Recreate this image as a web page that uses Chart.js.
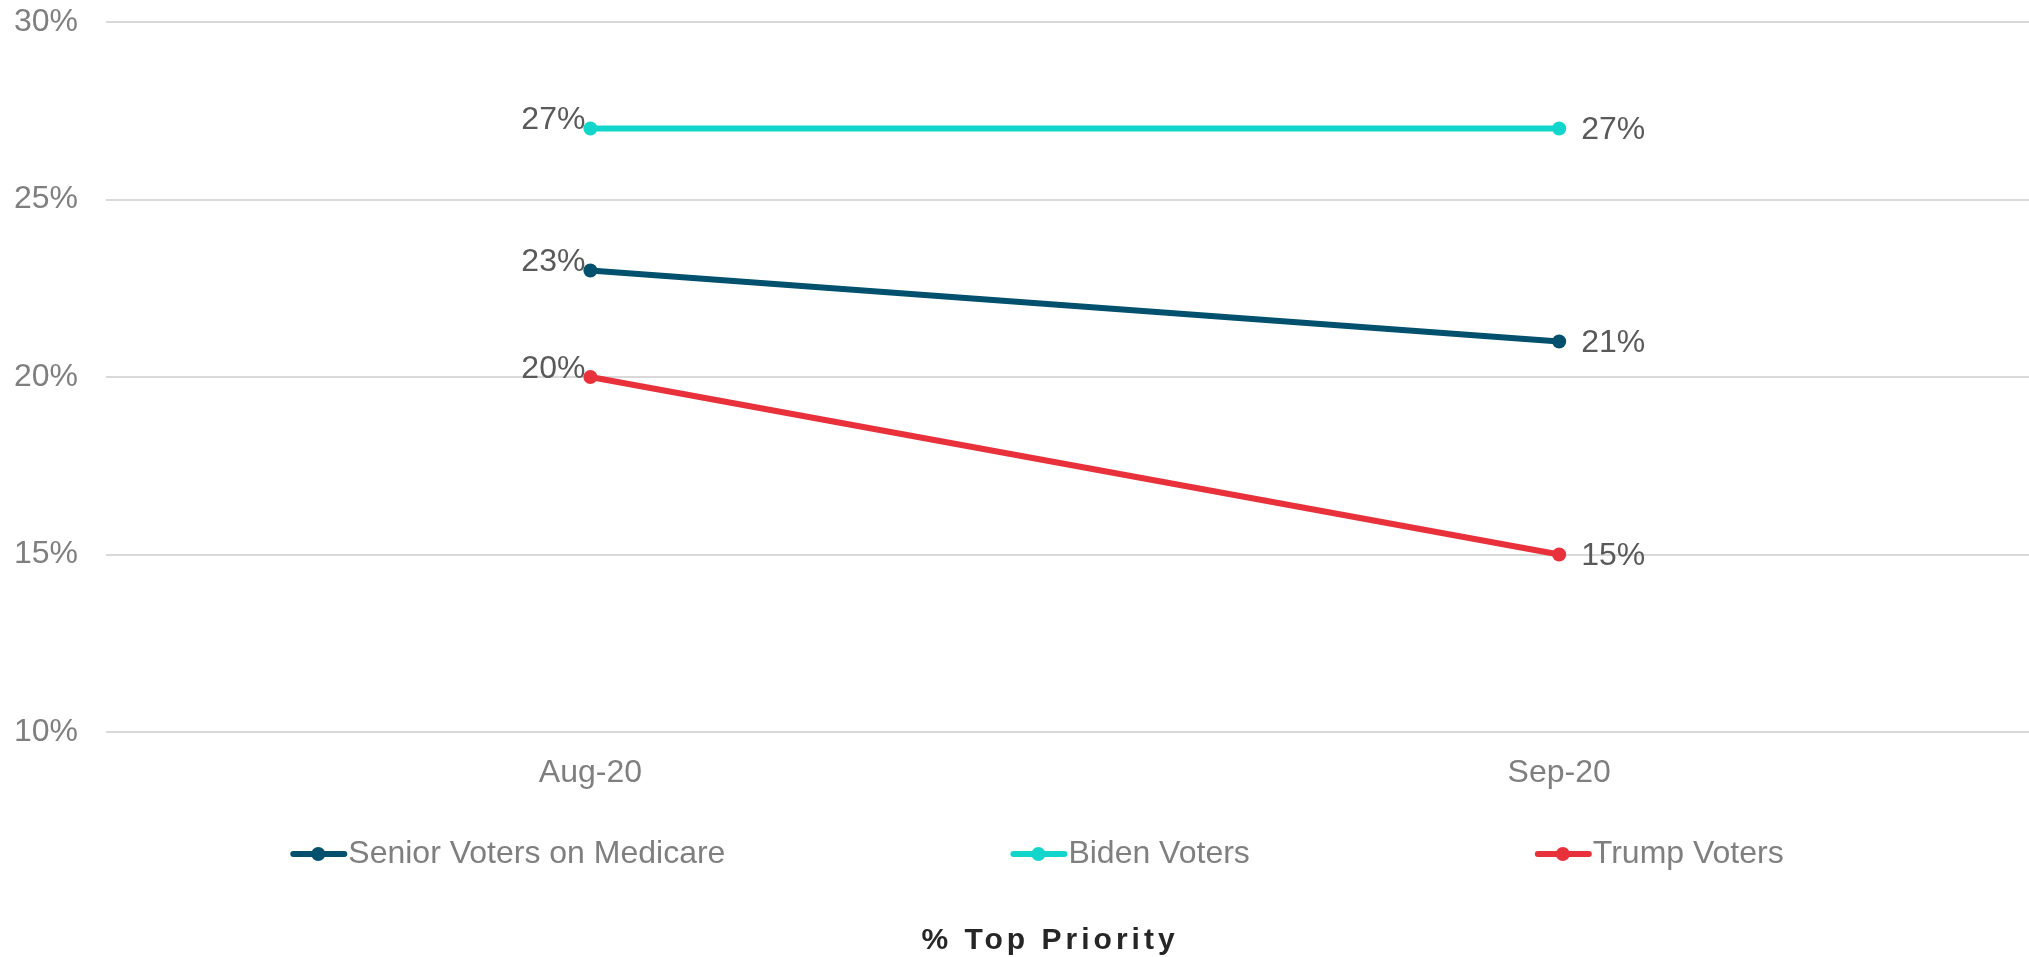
<!DOCTYPE html>
<html>
<head>
<meta charset="utf-8">
<script src="https://cdn.jsdelivr.net/npm/chart.js@4.4.1/dist/chart.umd.min.js"></script>
<style>
  html, body { margin: 0; padding: 0; background: #fff; }
  #wrap { width: 2029px; height: 957px; }
</style>
</head>
<body>
<div id="wrap"><canvas id="priorityChart" width="2029" height="957"></canvas></div>
<script>
const months = ['Aug-20', 'Sep-20'];
const seniorVoters = [23, 21];
const bidenVoters = [27, 27];
const trumpVoters = [20, 15];
const seriesNames = ['Senior Voters on Medicare', 'Biden Voters', 'Trump Voters'];
const seriesColors = ['#00506E', '#12D6CB', '#E8313A'];
const yTicks = [10, 15, 20, 25, 30];
const axisTitle = '% Top Priority';

const FONT = '"Liberation Sans", Arial, sans-serif';

function makeSet(i, values) {
    return {
        label: seriesNames[i],
        data: values.map((v, k) => ({ x: k, y: v })),
        borderColor: seriesColors[i],
        backgroundColor: seriesColors[i],
        borderWidth: 6,
        pointRadius: 7,
        pointHoverRadius: 7,
        pointBorderWidth: 0,
        tension: 0
    };
}

// подписи значений у точек
const valueLabels = {
    id: 'valueLabels',
    afterDatasetsDraw(chart) {
        const ctx = chart.ctx;
        ctx.save();
        ctx.font = '32px ' + FONT;
        ctx.fillStyle = '#595959';
        ctx.textBaseline = 'middle';
        chart.data.datasets.forEach((ds, i) => {
            chart.getDatasetMeta(i).data.forEach((pt, j) => {
                const txt = ds.data[j].y + '%';
                if (j === 0) {
                    ctx.textAlign = 'right';
                    ctx.fillText(txt, pt.x - 5, pt.y - 8);
                } else {
                    ctx.textAlign = 'left';
                    ctx.fillText(txt, pt.x + 22, pt.y + 2);
                }
            });
        });
        ctx.restore();
    }
};

// легенда и подпись снизу
const bottomLegend = {
    id: 'bottomLegend',
    afterDraw(chart) {
        const ctx = chart.ctx;
        ctx.save();
        ctx.font = '32px ' + FONT;
        ctx.textBaseline = 'middle';
        const markW = 58, gap = 285, y = 854;
        const items = chart.data.datasets.map(ds => ({
            ds, w: markW + ctx.measureText(ds.label).width
        }));
        const total = items.reduce((s, it) => s + it.w, 0) + gap * (items.length - 1);
        let x = 1037 - total / 2;
        items.forEach(it => {
            ctx.strokeStyle = it.ds.borderColor;
            ctx.lineWidth = 6;
            ctx.lineCap = 'round';
            ctx.beginPath();
            ctx.moveTo(x + 3, y);
            ctx.lineTo(x + markW - 4, y);
            ctx.stroke();
            ctx.fillStyle = it.ds.borderColor;
            ctx.beginPath();
            ctx.arc(x + markW / 2 - 1, y, 7, 0, Math.PI * 2);
            ctx.fill();
            ctx.fillStyle = '#7F7F7F';
            ctx.textAlign = 'left';
            ctx.fillText(it.ds.label, x + markW, y);
            x += it.w + gap;
        });

        ctx.font = 'bold 30px ' + FONT;
        ctx.letterSpacing = '4px';
        ctx.fillStyle = '#262626';
        ctx.textAlign = 'center';
        ctx.fillText(axisTitle, 1050, 941);
        ctx.restore();
    }
};

new Chart(document.getElementById('priorityChart'), {
    type: 'line',
    data: {
        datasets: [
            makeSet(0, seniorVoters),
            makeSet(1, bidenVoters),
            makeSet(2, trumpVoters)
        ]
    },
    options: {
        responsive: false,
        animation: false,
        layout: { autoPadding: false, padding: { top: 22, right: 0, bottom: 165, left: 0 } },
        plugins: {
            legend: { display: false },
            title: { display: false },
            tooltip: { enabled: false }
        },
        scales: {
            x: {
                type: 'linear',
                min: -0.5,
                max: 1.485,
                afterBuildTicks: (scale) => {
                    scale.ticks = months.map((m, k) => ({ value: k }));
                },
                grid: { display: false },
                border: { display: false },
                ticks: {
                    color: '#7F7F7F',
                    font: { family: FONT, size: 32 },
                    padding: 14,
                    callback: (v) => months[v]
                },
                afterFit: (scale) => {
                    scale.height = 60;
                    scale.paddingLeft = 0;
                    scale.paddingRight = 0;
                }
            },
            y: {
                min: 10,
                max: 30,
                afterBuildTicks: (scale) => {
                    scale.ticks = yTicks.map(v => ({ value: v }));
                },
                grid: { color: '#D9D9D9', lineWidth: 2, drawTicks: false },
                border: { display: false },
                ticks: {
                    color: '#7F7F7F',
                    font: { family: FONT, size: 32 },
                    padding: 28,
                    callback: (v) => v + '%'
                },
                afterFit: (scale) => {
                    scale.width = 106;
                    scale.paddingTop = 0;
                    scale.paddingBottom = 0;
                }
            }
        }
    },
    plugins: [valueLabels, bottomLegend]
});
</script>
</body>
</html>
